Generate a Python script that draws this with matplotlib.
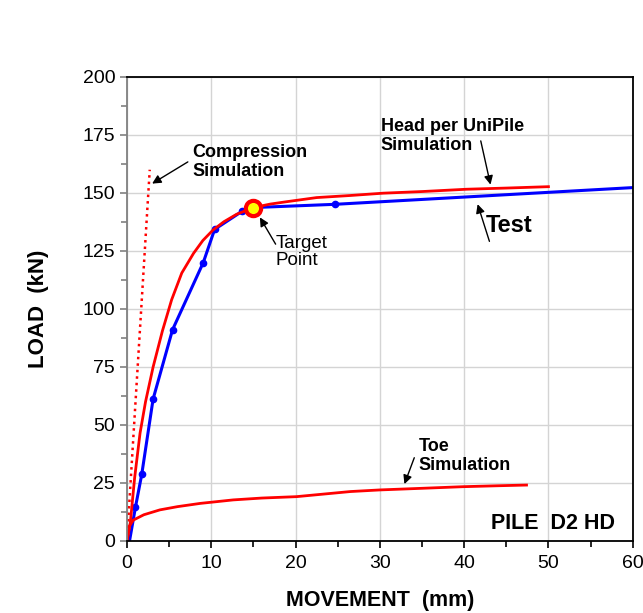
import matplotlib.pyplot as plt
from matplotlib.ticker import MultipleLocator

plt.rcParams['font.family'] = ['Liberation Sans', 'DejaVu Sans']

# Test (static loading) - measured points
test_mm = [0.3, 1.0, 1.75, 3.1, 5.4, 9.05, 10.4, 13.7, 15.0, 24.7, 60.0]
test_kn = [0.0, 14.5, 28.7, 61.2, 91.0, 120.0, 134.3, 142.2, 143.7, 145.1, 152.3]
test_marked = [1, 2, 3, 4, 5, 6, 7, 9]  # indices drawn with dots

# Head per UniPile simulation
head_mm = [0.0, 0.4, 0.9, 1.55, 2.2, 3.1, 4.2, 5.3, 6.5, 7.9, 9.0, 10.2, 11.5, 13.0, 15.0,
           17.0, 18.9, 22.5, 26.5, 30.4, 35.0, 40.3, 45.0, 50.0]
head_kn = [0.0, 8.0, 27.0, 46.5, 60.0, 75.0, 90.5, 104.0, 115.5, 124.0, 129.5, 134.0, 137.6,
           140.8, 143.7, 145.2, 146.2, 148.0, 148.9, 149.9, 150.6, 151.6, 152.1, 152.7]

# Toe simulation
toe_mm = [0.0, 0.3, 0.75, 2.0, 3.9, 6.0, 8.7, 12.6, 16.0, 20.1, 26.5, 30.0, 35.0, 39.9, 44.0, 47.4]
toe_kn = [0.0, 6.5, 9.0, 11.3, 13.4, 14.8, 16.2, 17.7, 18.5, 19.1, 21.3, 22.0, 22.7, 23.4, 23.8, 24.1]

# Compression simulation (elastic line)
comp_mm = [0.0, 2.7]
comp_kn = [0.0, 160.0]

target_mm, target_kn = 15.0, 143.7

fig = plt.figure(figsize=(6.43, 6.13), dpi=100)
ax = fig.add_axes([0.1975, 0.1175, 0.7865, 0.757])

ax.plot(comp_mm, comp_kn, color='red', linestyle=(0, (1, 1.6)), linewidth=1.8)
ax.plot(test_mm, test_kn, color='blue', linewidth=2.2)
ax.plot([test_mm[i] for i in test_marked], [test_kn[i] for i in test_marked],
        'o', color='blue', markersize=4.5)
ax.plot(head_mm, head_kn, color='red', linewidth=2.0)
ax.plot(toe_mm, toe_kn, color='red', linewidth=2.0)
ax.plot([target_mm], [target_kn], 'o', markersize=11, markerfacecolor='yellow',
        markeredgecolor='red', markeredgewidth=3, zorder=5)

ax.set_xlim(0, 60)
ax.set_ylim(0, 200)
ax.xaxis.set_major_locator(MultipleLocator(10))
ax.xaxis.set_minor_locator(MultipleLocator(5))
ax.yaxis.set_major_locator(MultipleLocator(25))
ax.yaxis.set_minor_locator(MultipleLocator(12.5))
ax.grid(True, which='major', color='#d4d4d4', linewidth=1)
ax.set_axisbelow(True)
ax.tick_params(which='both', direction='out', labelsize=14, width=1.2)
ax.tick_params(which='major', length=5)
ax.tick_params(which='minor', length=4)
ax.tick_params(axis='x', which='major', pad=5)
for side in ['top', 'right', 'bottom']:
    ax.spines[side].set_color('black')
    ax.spines[side].set_linewidth(1.3)
ax.spines['left'].set_color('#808080')
ax.spines['left'].set_linewidth(1.3)
ax.tick_params(axis='y', which='both', color='#808080')

ax.set_xlabel('MOVEMENT  (mm)', fontsize=15.5, fontweight='bold', labelpad=13)
ax.set_ylabel('LOAD  (kN)', fontsize=16, fontweight='bold', labelpad=24)

arrow = dict(arrowstyle='-|>', color='black', linewidth=1.0, mutation_scale=13)
ax.annotate('', xy=(2.7, 153.4), xytext=(7.5, 164), arrowprops=arrow)
ax.text(7.8, 163.4, 'Compression\nSimulation', fontsize=13, fontweight='bold',
        va='center', ha='left', linespacing=1.1)

ax.annotate('', xy=(15.6, 140.5), xytext=(17.8, 126.9), arrowprops=arrow)
ax.text(17.6, 124.5, 'Target\nPoint', fontsize=13.5, va='center', ha='left', linespacing=1.0)

ax.annotate('', xy=(43.2, 152.4), xytext=(41.9, 173.6), arrowprops=arrow)
ax.text(30.1, 174.5, 'Head per UniPile\nSimulation', fontsize=13, fontweight='bold',
        va='center', ha='left', linespacing=1.1)

ax.annotate('', xy=(41.5, 146.3), xytext=(43.1, 128), arrowprops=arrow)
ax.text(42.6, 136, 'Test', fontsize=17, fontweight='bold', va='center', ha='left')

ax.annotate('', xy=(32.8, 23.4), xytext=(34.2, 37), arrowprops=arrow)
ax.text(34.6, 36.6, 'Toe\nSimulation', fontsize=13, fontweight='bold',
        va='center', ha='left', linespacing=1.1)

ax.text(57.9, 7.5, 'PILE  D2 HD', fontsize=15.5, fontweight='bold', va='center', ha='right')

fig.savefig('out.png', dpi=100)
